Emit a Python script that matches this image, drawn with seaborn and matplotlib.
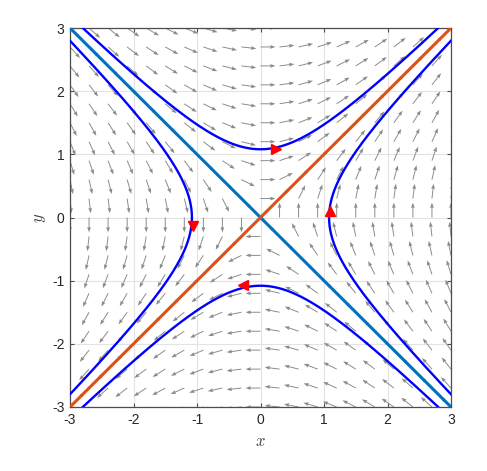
import numpy as np
import pandas as pd
import matplotlib
matplotlib.use("Agg")
import matplotlib.pyplot as plt
import seaborn as sns

# System x' = A [x, y]
A = [[0.0, 1.0], [1.0, 0.0]]
grid_vals = np.round(np.arange(-3, 3.001, 0.3), 2)
# trajectory start points (vertex of each hyperbola)
starts_x = [0.0, -1.08, 1.08, 0.0]
starts_y = [1.08, 0.0, 0.0, -1.08]
# marker positions and directions
mark_x = [0.24, -1.07, 1.09, -0.27]
mark_y = [1.09, -0.13, 0.11, -1.07]
mark_sym = ['>', 'v', '^', '<']
ticks = [-3, -2, -1, 0, 1, 2, 3]

sns.set_theme(style="whitegrid")
plt.rcParams['font.family'] = ['Liberation Sans', 'DejaVu Sans']
plt.rcParams['mathtext.fontset'] = 'cm'

fig = plt.figure(figsize=(4.87, 4.71), dpi=100)
ax = fig.add_axes([70/487, 64/471, 381/487, 379/471])

# vector field
X, Y = np.meshgrid(grid_vals, grid_vals)
U = A[0][0]*X + A[0][1]*Y
V = A[1][0]*X + A[1][1]*Y
M = np.hypot(U, V)
with np.errstate(invalid='ignore', divide='ignore'):
    Un = np.where(M > 0, U/M, np.nan)
    Vn = np.where(M > 0, V/M, np.nan)
ax.quiver(X, Y, Un, Vn, color='#8a8a8a', pivot='tail', angles='xy',
          scale_units='xy', scale=1/0.235, width=0.0025, headwidth=4,
          headlength=5.5, headaxislength=5, zorder=2)

# trajectories: exact solution x(t)=x0 cosh t + y0 sinh t, y(t)=x0 sinh t + y0 cosh t
t = np.linspace(-2.5, 2.5, 600)
frames = []
for i, (x0, y0) in enumerate(zip(starts_x, starts_y)):
    xs = x0*np.cosh(t) + y0*np.sinh(t)
    ys = x0*np.sinh(t) + y0*np.cosh(t)
    frames.append(pd.DataFrame({'x': xs, 'y': ys, 'traj': i}))
traj = pd.concat(frames)
sns.lineplot(data=traj, x='x', y='y', units='traj', estimator=None, sort=False,
             color='#0000FF', lw=1.7, ax=ax, zorder=3)

# eigenvector lines
line_x = [-3, 3]
sns.lineplot(x=line_x, y=[3, -3], color='#0072BD', lw=2.2, ax=ax, zorder=4)
sns.lineplot(x=line_x, y=[-3, 3], color='#D95319', lw=2.2, ax=ax, zorder=4)

for mx, my, ms in zip(mark_x, mark_y, mark_sym):
    ax.plot(mx, my, marker=ms, color='red', markersize=7, zorder=5, linestyle='none')

ax.set_xlim(-3, 3)
ax.set_ylim(-3, 3)
ax.set_xticks(ticks)
ax.set_yticks(ticks)
ax.set_xticklabels([str(v) for v in ticks])
ax.set_yticklabels([str(v) for v in ticks])
ax.grid(True, color='#e3e3e3', lw=0.8)
ax.set_axisbelow(True)
for s in ax.spines.values():
    s.set_color('#4d4d4d')
    s.set_linewidth(0.9)
ax.tick_params(direction='in', length=3, width=0.8, color='#4d4d4d',
               labelsize=10, labelcolor='#262626', top=True, right=True,
               bottom=True, left=True, pad=4)
ax.set_xlabel('$x$', fontsize=12, color='#404040', labelpad=5)
ax.set_ylabel('$y$', fontsize=12, color='#404040', labelpad=3)
ax.set_facecolor('white')
fig.patch.set_facecolor('white')

fig.savefig('out.png', dpi=100)
